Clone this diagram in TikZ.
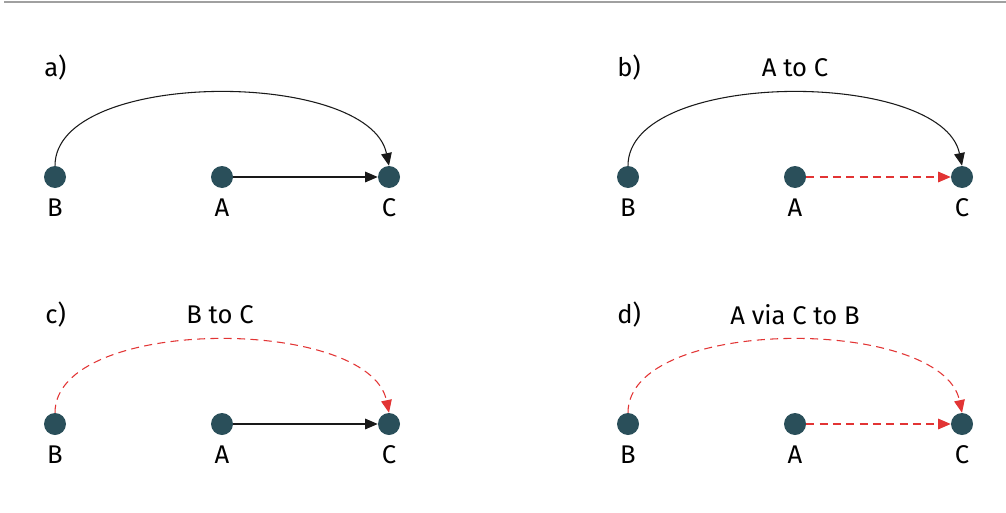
\documentclass[tikz,border=0pt]{standalone}
\usepackage{fontspec}
\setmainfont{Fira Sans}
\usetikzlibrary{arrows.meta}
\definecolor{NodeTeal}{RGB}{42,79,90}
\definecolor{ChangeRed}{RGB}{226,52,52}
\definecolor{RuleGray}{RGB}{160,160,160}
\tikzset{
	dot/.style={circle, fill=NodeTeal, minimum size=16.5pt, inner sep=0pt},
	lbl/.style={inner sep=0pt, font=\fontsize{19.2}{21}\selectfont},
	plain/.style={draw=black!90, line width=0.8pt, -{Triangle[length=9.5pt, width=8pt]}},
	changed/.style={draw=ChangeRed, line width=0.8pt, dash pattern=on 6pt off 4pt,
		-{Triangle[length=9.5pt, width=8pt, fill=ChangeRed]}}
}

\begin{document}
\begin{tikzpicture}[x=0.75pt, y=0.75pt]
	\useasboundingbox (0,0) rectangle (1006,512);
	\draw[RuleGray, line width=1.5pt] (4,510) -- (1006,510);
	% panel titles
	\node[lbl, anchor=west] (ta) at (44,444) {a)};
	\node[lbl, anchor=west] (tb) at (617,444) {b)};
	\node[lbl, anchor=west] (tc) at (45,197) {c)};
	\node[lbl, anchor=west] (td) at (617,197) {d)};
	\node[lbl] (hb) at (795,444) {A to C};
	\node[lbl] (hc) at (220,197) {B to C};
	\node[lbl] (hd) at (795,197) {A via C to B};
	% four panels
	\foreach \p/\dx/\dy/\arc/\line in {a/0/0/plain/plain, b/573/0/plain/changed,
		c/0/-247/changed/plain, d/573/-247/changed/changed}
	{
		\begin{scope}[shift={(\dx,\dy)}]
			\node[dot] (B\p) at (55,335) {};
			\node[dot] (A\p) at (222,335) {};
			\node[dot] (C\p) at (389,335) {};
			\node[lbl] (lB\p) at (55,304) {B};
			\node[lbl] (lA\p) at (222,304) {A};
			\node[lbl] (lC\p) at (389,304) {C};
			\draw[\arc] (B\p.north) .. controls +(0,97) and +(-20,97) .. (C\p.north);
			\draw[\line] (A\p) -- (C\p);
		\end{scope}
	}
\end{tikzpicture}
\end{document}
